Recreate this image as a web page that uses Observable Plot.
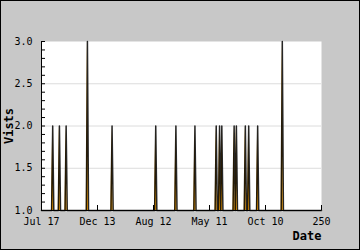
<!DOCTYPE html>
<html><head><meta charset="utf-8">
<script src="https://cdn.jsdelivr.net/npm/d3@7"></script>
<script src="https://cdn.jsdelivr.net/npm/@observablehq/plot@0.6"></script>
<style>
html,body{margin:0;padding:0;background:#c8c8c8;}
#chart svg{display:block;outline:1px solid #000;outline-offset:-1px;}
</style></head><body><div id="chart"></div>
<script>
// Data
const spikeIndex = [10, 16, 22, 41, 63, 102, 120, 137, 156, 159, 161, 172, 174, 182, 185, 193, 215];
const spikeValue = [2, 2, 2, 3, 2, 2, 2, 2, 2, 2, 2, 2, 2, 2, 2, 2, 3];
const baseValue = 1;
const lastIndex = 250;
const xTickValues = [0, 50, 100, 150, 200, 250];
const xTickLabels = ["Jul 17", "Dec 13", "Aug 12", "May 11", "Oct 10", "250"];
const yLabelTicks = [1.0, 1.5, 2.0, 2.5, 3.0];
const yMinorTicks = [1.0, 1.1, 1.2, 1.3, 1.4, 1.5, 1.6, 1.7, 1.8, 1.9, 2.0, 2.1, 2.2, 2.3, 2.4, 2.5, 2.6, 2.7, 2.8, 2.9, 3.0];
const gridValues = [1.5, 2.0, 2.5];

const series = [];
for (let i = 0; i <= lastIndex; i++) {
  const k = spikeIndex.indexOf(i);
  series.push({i, v: k >= 0 ? spikeValue[k] : baseValue});
}

const chart = Plot.plot({
  width: 360, height: 250,
  marginLeft: 41, marginRight: 39, marginTop: 41, marginBottom: 40,
  style: {background: "#c8c8c8", fontFamily: "'DejaVu Sans Mono', monospace", fontSize: "10px", color: "#000"},
  x: {domain: [0, 250]},
  y: {domain: [1, 3]},
  marks: [
    Plot.frame({fill: "white"}),
    Plot.ruleY(gridValues, {stroke: "#dcdcdc"}),
    Plot.areaY(series, {x: "i", y1: 1, y2: "v", fill: "#ffa500"}),
    Plot.lineY(series, {x: "i", y: "v", stroke: "#000", strokeWidth: 1.5, strokeOpacity: 0.85}),
    Plot.ruleX([0], {stroke: "#000"}),
    Plot.ruleY([1], {stroke: "#000"}),
    Plot.tickY(yMinorTicks, {y: d => d, insetRight: 276, stroke: "#000"}),
    Plot.tickX(xTickValues, {x: d => d, insetTop: 164, stroke: "#000"}),
    Plot.axisY({ticks: yLabelTicks, tickSize: 0, tickPadding: 9, tickFormat: d3.format(".1f"), label: null}),
    Plot.axisX({ticks: xTickValues, tickSize: 0, tickPadding: 7, tickFormat: d => xTickLabels[xTickValues.indexOf(d)], label: null}),
    Plot.text(["Vists"], {text: d => d, frameAnchor: "left", dx: -32, rotate: -90, textAnchor: "middle", lineAnchor: "middle", fontWeight: "bold", fontSize: 12}),
    Plot.text(["Date"], {text: d => d, frameAnchor: "bottom-right", dy: 26, textAnchor: "end", lineAnchor: "middle", fontWeight: "bold", fontSize: 12})
  ]
});
document.getElementById("chart").appendChild(chart);
</script></body></html>
